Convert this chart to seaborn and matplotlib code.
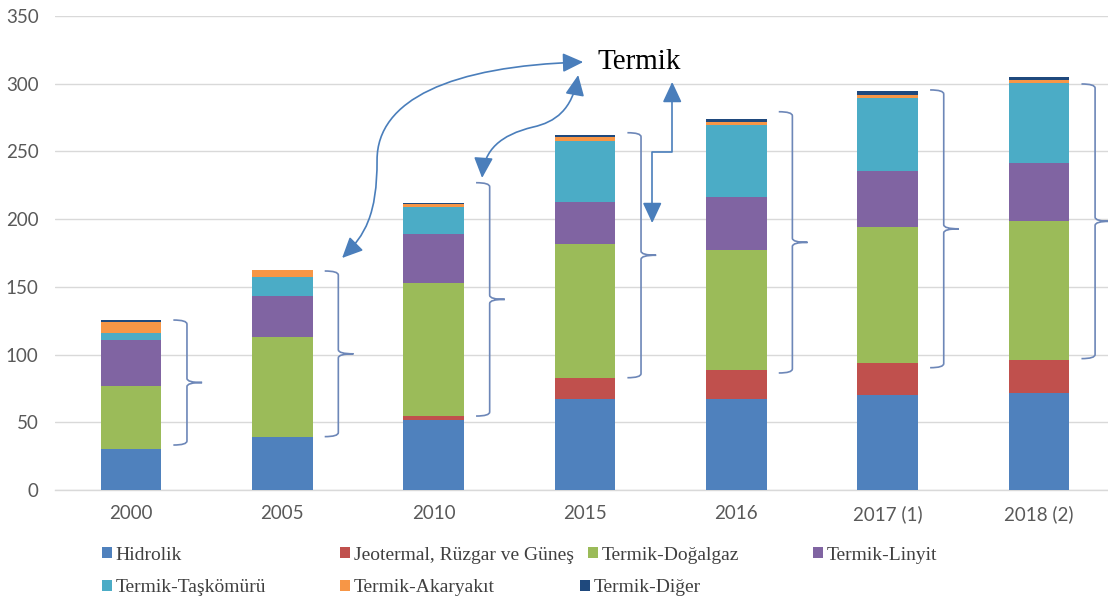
import matplotlib
matplotlib.use("Agg")
import matplotlib.pyplot as plt
import seaborn as sns
import numpy as np
from matplotlib.path import Path
from matplotlib.patches import PathPatch, FancyArrowPatch, Patch

# ---------------- data ----------------
years = ["2000", "2005", "2010", "2015", "2016", "2017 (1)", "2018 (2)"]
hidrolik  = [30.4, 39.4, 51.7, 67.0, 67.0, 70.2, 71.9]
jeotermal = [0.1, 0.1, 3.0, 15.5, 21.6, 23.4, 24.1]
dogalgaz  = [46.3, 73.7, 98.0, 99.2, 88.6, 100.7, 102.7]
linyit    = [34.0, 30.1, 36.3, 31.0, 39.4, 41.4, 42.6]
taskomuru = [4.9, 13.8, 19.8, 45.0, 52.9, 53.6, 59.1]
akaryakit = [8.6, 5.4, 2.2, 2.7, 2.2, 2.4, 2.4]
diger     = [1.0, 0.3, 0.7, 1.7, 2.2, 2.7, 2.5]

series_names = ["Hidrolik", "Jeotermal, Rüzgar ve Güneş", "Termik-Doğalgaz",
                "Termik-Linyit", "Termik-Taşkömürü", "Termik-Akaryakıt", "Termik-Diğer"]
series_vals = [hidrolik, jeotermal, dogalgaz, linyit, taskomuru, akaryakit, diger]
colors = ["#4f81bd", "#c0504d", "#9bbb59", "#8064a2", "#4bacc6", "#f79646", "#1f497d"]

yticks = [0, 50, 100, 150, 200, 250, 300, 350]

# annotation geometry (brace extents in data units)
brace_lo = [33.2, 39.4, 54.6, 82.9, 86.4, 90.3, 97.0]
brace_hi = [125.5, 161.7, 226.9, 263.8, 279.3, 295.4, 299.8]

# ---------------- figure ----------------
sns.set_theme(style="white")
plt.rcParams["font.family"] = ["Lato", "DejaVu Sans"]

fig = plt.figure(figsize=(11.08, 6.01), dpi=100)
ax = fig.add_axes([0.0499, 0.1847, 0.9562, 0.7887])

bottom = np.zeros(len(years))
for name, vals, c in zip(series_names, series_vals, colors):
    sns.barplot(x=years, y=vals, bottom=bottom, color=c, saturation=1,
                width=0.4, linewidth=0, errorbar=None, ax=ax, zorder=3)
    bottom = bottom + np.array(vals)

ax.set_xlim(-0.5, len(years) - 0.5)
ax.set_ylim(0, 350)
ax.set_yticks(yticks)
ax.grid(axis="y", color="#d9d9d9", linewidth=1, zorder=0)
ax.grid(axis="x", visible=False)
for s in ["top", "right", "left"]:
    ax.spines[s].set_visible(False)
ax.spines["bottom"].set_color("#d9d9d9")
ax.spines["bottom"].set_linewidth(1)
ax.tick_params(axis="both", length=0, labelsize=13.5, labelcolor="#595959")
ax.tick_params(axis="y", pad=12)
ax.tick_params(axis="x", pad=11)
ax.set_xlabel("")
ax.set_ylabel("")

# ---------------- braces ----------------
brace_color = "#6d87b8"
d = 3.0
for i, (lo, hi) in enumerate(zip(brace_lo, brace_hi)):
    x0, x1, x2 = i + 0.28, i + 0.37, i + 0.47
    mid = (lo + hi) / 2
    verts = [(x0, hi), (x1, hi), (x1, hi - d),
             (x1, mid + d),
             (x1, mid), (x2, mid),
             (x1, mid), (x1, mid - d),
             (x1, lo + d),
             (x1, lo), (x0, lo)]
    codes = [Path.MOVETO, Path.CURVE3, Path.CURVE3,
             Path.LINETO,
             Path.CURVE3, Path.CURVE3,
             Path.CURVE3, Path.CURVE3,
             Path.LINETO,
             Path.CURVE3, Path.CURVE3]
    ax.add_patch(PathPatch(Path(verts, codes), fill=False, edgecolor=brace_color,
                           linewidth=1.2, zorder=4, clip_on=False))

# ---------------- arrows ----------------
arrow_color = "#4a7ebb"
astyle = "<|-|>,head_length=0.9,head_width=0.42"

p1 = Path([(2.988, 316.0), (2.109, 313.1), (1.626, 288.0), (1.626, 243.7),
           (1.626, 203.1), (1.547, 188.3), (1.395, 171.3)],
          [Path.MOVETO, Path.CURVE4, Path.CURVE4, Path.CURVE4,
           Path.CURVE4, Path.CURVE4, Path.CURVE4])
p2 = Path([(2.955, 306.4), (2.915, 280.6), (2.803, 271.7), (2.657, 268.0),
           (2.439, 262.1), (2.333, 251.1), (2.320, 230.4)],
          [Path.MOVETO, Path.CURVE4, Path.CURVE4, Path.CURVE4,
           Path.CURVE4, Path.CURVE4, Path.CURVE4])
p3 = Path([(3.576, 301.3), (3.576, 249.6), (3.444, 249.6), (3.444, 197.1)],
          [Path.MOVETO, Path.LINETO, Path.LINETO, Path.LINETO])
for p in (p1, p2, p3):
    ax.add_patch(FancyArrowPatch(path=p, arrowstyle=astyle, mutation_scale=14,
                                 color=arrow_color, linewidth=1.2, zorder=5,
                                 transform=ax.transData))

ax.text(3.08, 316.0, "Termik", fontsize=21, color="black", ha="left", va="center",
        family=["Liberation Serif", "DejaVu Serif"], zorder=6)

# ---------------- legend ----------------
leg_pos = [(102, 555), (340, 555), (588, 555), (813, 555),
           (102, 588), (340, 588), (580, 588)]
W, H = 1108.0, 601.0
for (px, py), name, c in zip(leg_pos, series_names, colors):
    lg = fig.legend(handles=[Patch(facecolor=c, edgecolor="none")], labels=[name],
                    loc="center left", bbox_to_anchor=(px / W, 1 - py / H),
                    frameon=False, borderpad=0, borderaxespad=0,
                    handlelength=0.5, handleheight=0.5, handletextpad=0.2,
                    prop={"family": ["Liberation Serif", "DejaVu Serif"], "size": 14})
    for t in lg.get_texts():
        t.set_color("#404040")

fig.savefig("out.png", dpi=100)
